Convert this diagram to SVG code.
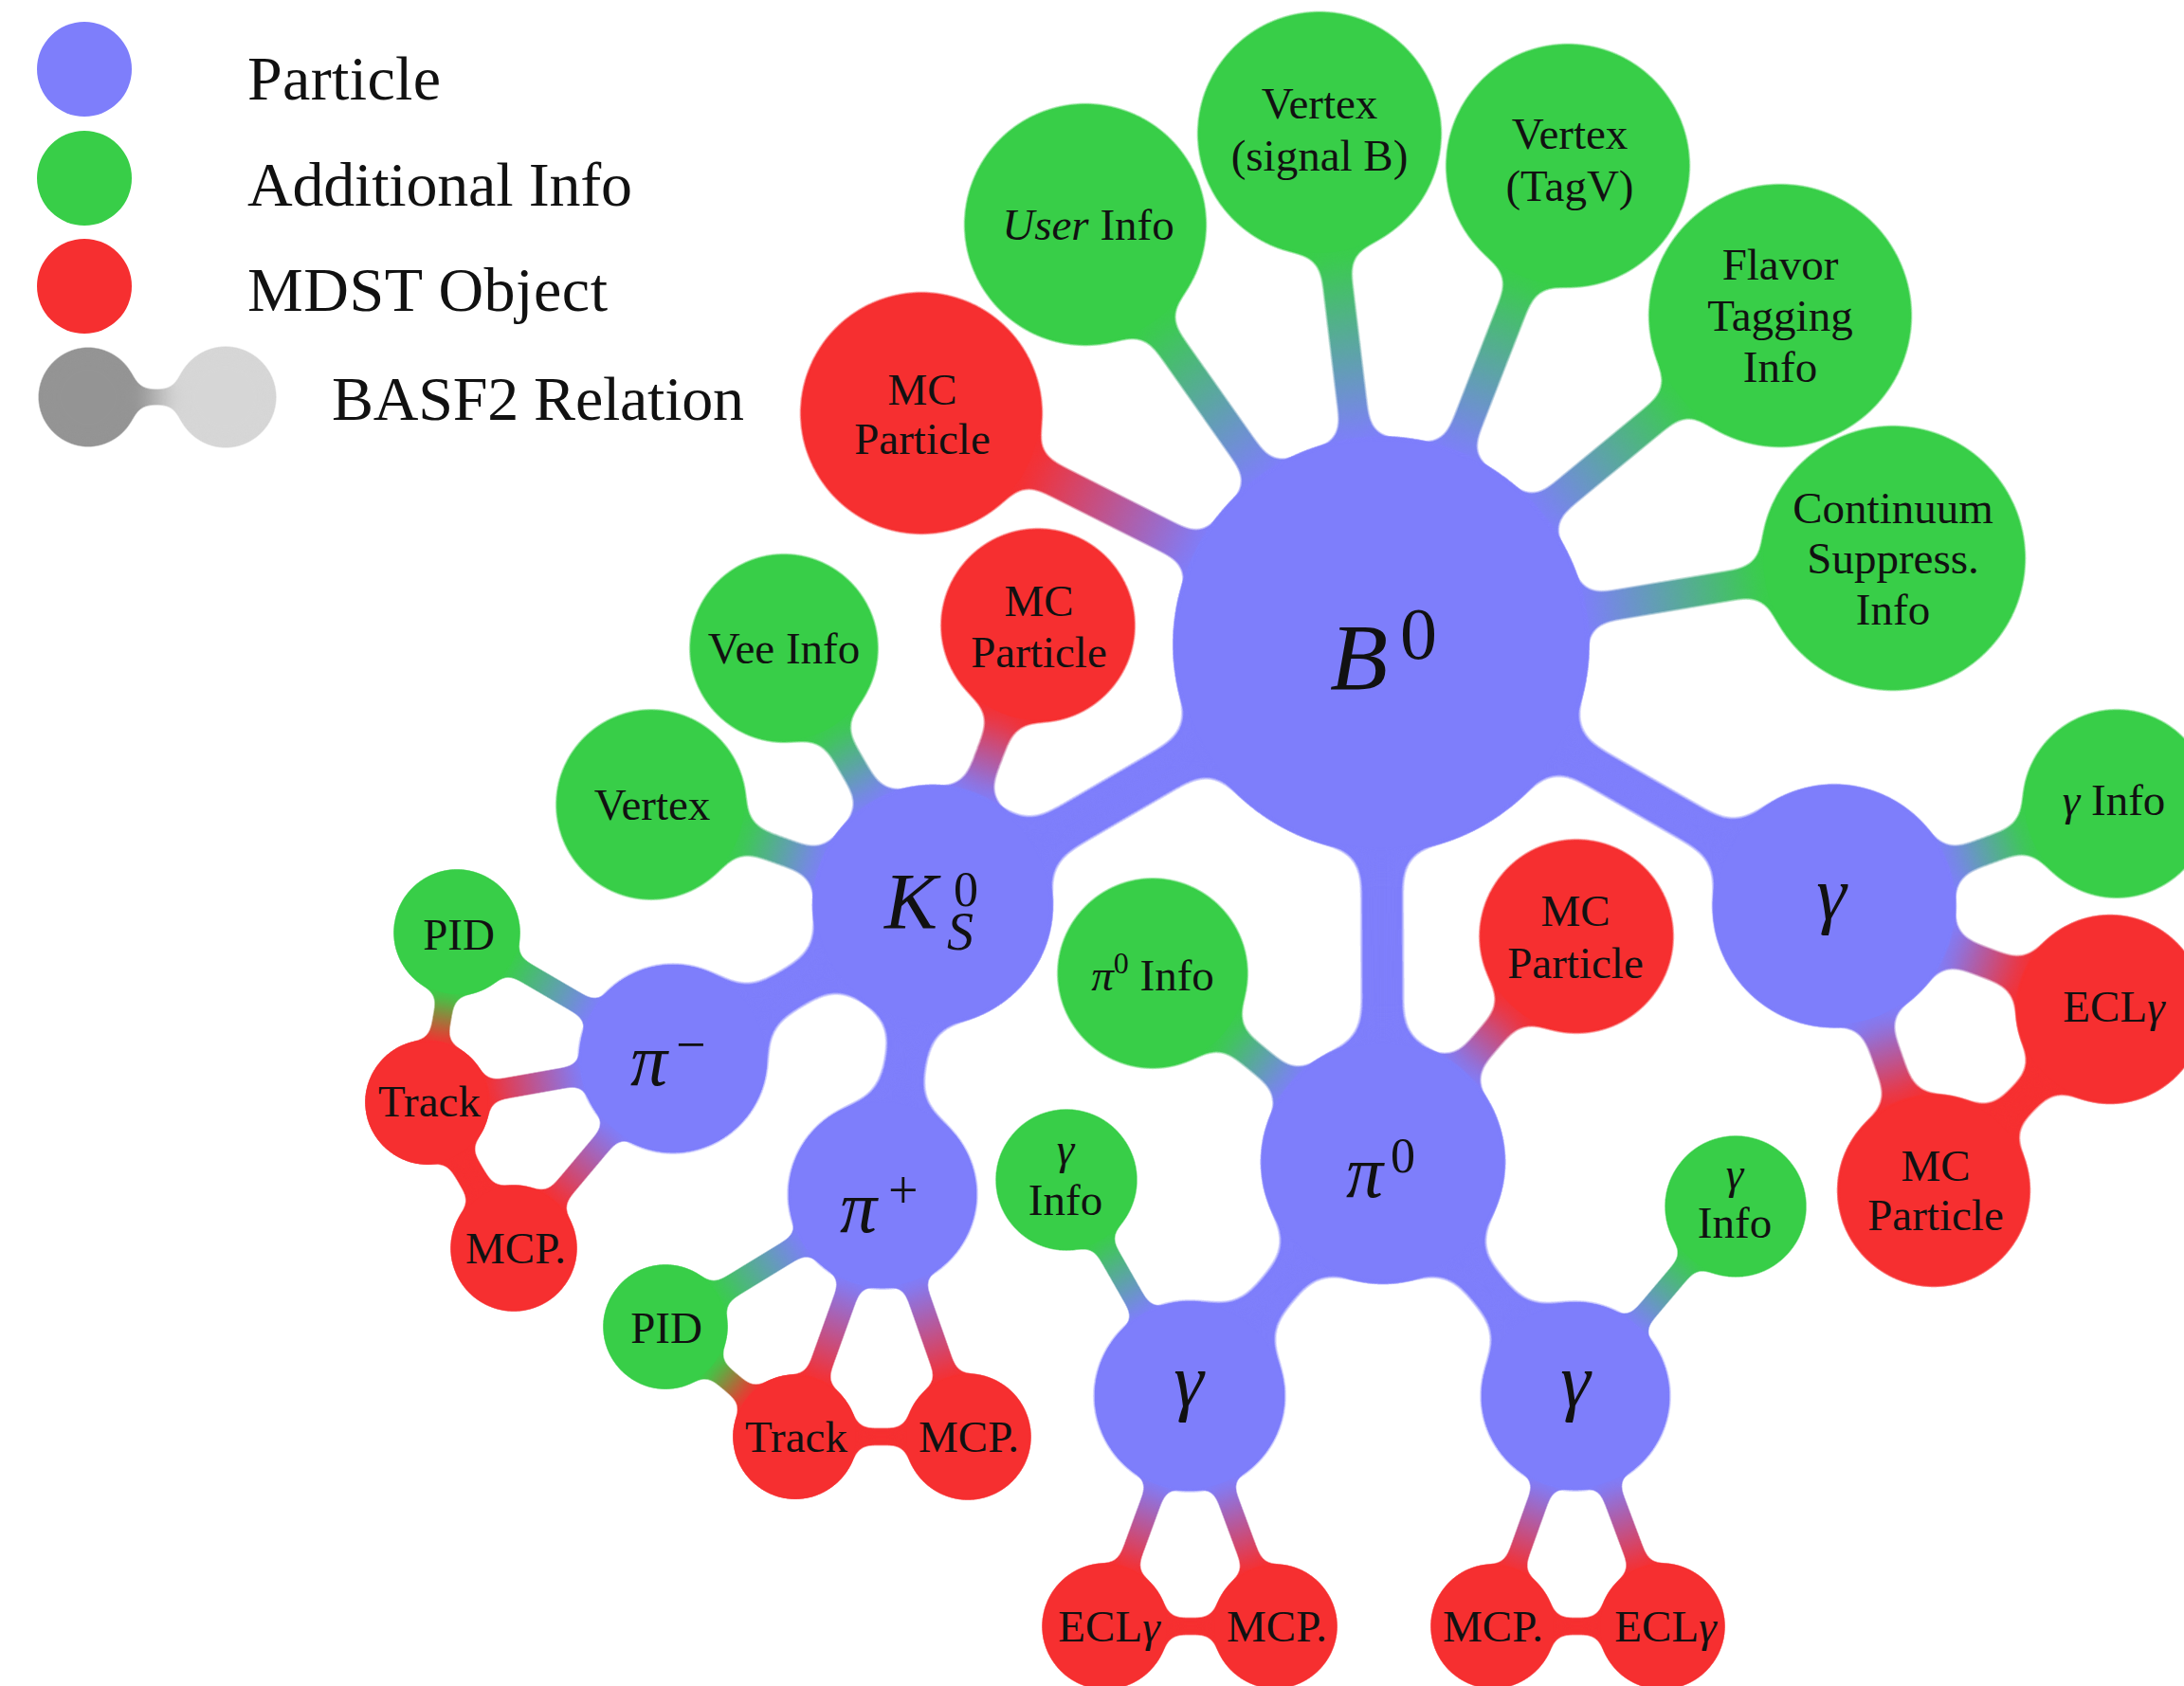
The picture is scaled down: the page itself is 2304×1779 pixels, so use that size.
<svg xmlns="http://www.w3.org/2000/svg" width="2304" height="1779" viewBox="0 0 2304 1779">
<style>
.b{fill:#7e7efb}.g{fill:#38ce48}.r{fill:#f62f30}
text{font-family:"Liberation Serif","DejaVu Serif",serif;fill:#111}
.t{font-size:47px;text-anchor:middle}
.i{font-style:italic}
.lg{font-size:66px}
line{stroke-linecap:butt}
.sb{stroke:#7e7efb}.sr{stroke:#f62f30}
</style>
<defs>
<filter id="gx" x="-25%" y="-25%" width="150%" height="150%" color-interpolation-filters="sRGB">
<feGaussianBlur in="SourceGraphic" stdDeviation="20"/>
<feColorMatrix values="1 0 0 0 0  0 1 0 0 0  0 0 1 0 0  0 0 0 16 -6"/>
</filter>
<filter id="gl" x="-20%" y="-20%" width="140%" height="140%" color-interpolation-filters="sRGB">
<feGaussianBlur in="SourceGraphic" stdDeviation="15"/>
<feColorMatrix values="1 0 0 0 0  0 1 0 0 0  0 0 1 0 0  0 0 0 16 -6"/>
</filter>
<filter id="gs" x="-20%" y="-20%" width="140%" height="140%" color-interpolation-filters="sRGB">
<feGaussianBlur in="SourceGraphic" stdDeviation="9"/>
<feColorMatrix values="1 0 0 0 0  0 1 0 0 0  0 0 1 0 0  0 0 0 16 -6"/>
</filter>
<linearGradient id="gUI" gradientUnits="userSpaceOnUse" x1="1457" y1="680" x2="1145" y2="237"><stop offset=".397" stop-color="#7e7efb"/><stop offset=".769" stop-color="#38ce48"/></linearGradient>
<linearGradient id="gVS" gradientUnits="userSpaceOnUse" x1="1457" y1="680" x2="1392" y2="141"><stop offset=".396" stop-color="#7e7efb"/><stop offset=".768" stop-color="#38ce48"/></linearGradient>
<linearGradient id="gVT" gradientUnits="userSpaceOnUse" x1="1457" y1="680" x2="1654" y2="175"><stop offset=".397" stop-color="#7e7efb"/><stop offset=".768" stop-color="#38ce48"/></linearGradient>
<linearGradient id="gFT" gradientUnits="userSpaceOnUse" x1="1457" y1="680" x2="1878" y2="333"><stop offset=".394" stop-color="#7e7efb"/><stop offset=".751" stop-color="#38ce48"/></linearGradient>
<linearGradient id="gCS" gradientUnits="userSpaceOnUse" x1="1457" y1="680" x2="1997" y2="589"><stop offset=".393" stop-color="#7e7efb"/><stop offset=".75" stop-color="#38ce48"/></linearGradient>
<linearGradient id="gMC1" gradientUnits="userSpaceOnUse" x1="1457" y1="680" x2="972" y2="436"><stop offset=".396" stop-color="#7e7efb"/><stop offset=".77" stop-color="#f62f30"/></linearGradient>
<linearGradient id="gVX" gradientUnits="userSpaceOnUse" x1="984" y1="955" x2="687" y2="849"><stop offset=".39" stop-color="#7e7efb"/><stop offset=".689" stop-color="#38ce48"/></linearGradient>
<linearGradient id="gVEE" gradientUnits="userSpaceOnUse" x1="984" y1="955" x2="827" y2="684"><stop offset=".393" stop-color="#7e7efb"/><stop offset=".69" stop-color="#38ce48"/></linearGradient>
<linearGradient id="gMC2" gradientUnits="userSpaceOnUse" x1="984" y1="955" x2="1095" y2="660"><stop offset=".39" stop-color="#7e7efb"/><stop offset=".683" stop-color="#f62f30"/></linearGradient>
<linearGradient id="gP1" gradientUnits="userSpaceOnUse" x1="710" y1="1117" x2="482" y2="984"><stop offset=".367" stop-color="#7e7efb"/><stop offset=".754" stop-color="#38ce48"/></linearGradient>
<linearGradient id="gT1" gradientUnits="userSpaceOnUse" x1="710" y1="1117" x2="451" y2="1163"><stop offset=".369" stop-color="#7e7efb"/><stop offset=".757" stop-color="#f62f30"/></linearGradient>
<linearGradient id="gM1" gradientUnits="userSpaceOnUse" x1="710" y1="1117" x2="542" y2="1317"><stop offset=".371" stop-color="#7e7efb"/><stop offset=".751" stop-color="#f62f30"/></linearGradient>
<linearGradient id="gPT1" gradientUnits="userSpaceOnUse" x1="482" y1="984" x2="451" y2="1163"><stop offset=".358" stop-color="#38ce48"/><stop offset=".648" stop-color="#f62f30"/></linearGradient>
<linearGradient id="gP2" gradientUnits="userSpaceOnUse" x1="931" y1="1260" x2="702" y2="1400"><stop offset=".361" stop-color="#7e7efb"/><stop offset=".762" stop-color="#38ce48"/></linearGradient>
<linearGradient id="gT2" gradientUnits="userSpaceOnUse" x1="931" y1="1260" x2="839" y2="1516"><stop offset=".357" stop-color="#7e7efb"/><stop offset=".765" stop-color="#f62f30"/></linearGradient>
<linearGradient id="gM2" gradientUnits="userSpaceOnUse" x1="931" y1="1260" x2="1021" y2="1516"><stop offset=".357" stop-color="#7e7efb"/><stop offset=".76" stop-color="#f62f30"/></linearGradient>
<linearGradient id="gPT2" gradientUnits="userSpaceOnUse" x1="702" y1="1400" x2="839" y2="1516"><stop offset=".357" stop-color="#38ce48"/><stop offset=".643" stop-color="#f62f30"/></linearGradient>
<linearGradient id="gPI" gradientUnits="userSpaceOnUse" x1="1459" y1="1226" x2="1216" y2="1027"><stop offset=".398" stop-color="#7e7efb"/><stop offset=".688" stop-color="#38ce48"/></linearGradient>
<linearGradient id="gMC3" gradientUnits="userSpaceOnUse" x1="1459" y1="1226" x2="1663" y2="988"><stop offset=".399" stop-color="#7e7efb"/><stop offset=".681" stop-color="#f62f30"/></linearGradient>
<linearGradient id="gGIL" gradientUnits="userSpaceOnUse" x1="1255" y1="1473" x2="1125" y2="1245"><stop offset=".373" stop-color="#7e7efb"/><stop offset=".722" stop-color="#38ce48"/></linearGradient>
<linearGradient id="gE1" gradientUnits="userSpaceOnUse" x1="1255" y1="1473" x2="1166" y2="1716"><stop offset=".379" stop-color="#7e7efb"/><stop offset=".749" stop-color="#f62f30"/></linearGradient>
<linearGradient id="gMb1" gradientUnits="userSpaceOnUse" x1="1255" y1="1473" x2="1345" y2="1716"><stop offset=".378" stop-color="#7e7efb"/><stop offset=".753" stop-color="#f62f30"/></linearGradient>
<linearGradient id="gGIR" gradientUnits="userSpaceOnUse" x1="1662" y1="1473" x2="1831" y2="1273"><stop offset=".371" stop-color="#7e7efb"/><stop offset=".721" stop-color="#38ce48"/></linearGradient>
<linearGradient id="gMb2" gradientUnits="userSpaceOnUse" x1="1662" y1="1473" x2="1575" y2="1716"><stop offset=".376" stop-color="#7e7efb"/><stop offset=".752" stop-color="#f62f30"/></linearGradient>
<linearGradient id="gE2" gradientUnits="userSpaceOnUse" x1="1662" y1="1473" x2="1753" y2="1716"><stop offset=".374" stop-color="#7e7efb"/><stop offset=".75" stop-color="#f62f30"/></linearGradient>
<linearGradient id="gGBI" gradientUnits="userSpaceOnUse" x1="1935" y1="956" x2="2233" y2="848"><stop offset=".394" stop-color="#7e7efb"/><stop offset=".694" stop-color="#38ce48"/></linearGradient>
<linearGradient id="gE3" gradientUnits="userSpaceOnUse" x1="1935" y1="956" x2="2226" y2="1065"><stop offset=".402" stop-color="#7e7efb"/><stop offset=".688" stop-color="#f62f30"/></linearGradient>
<linearGradient id="gMC4" gradientUnits="userSpaceOnUse" x1="1935" y1="956" x2="2040" y2="1256"><stop offset=".393" stop-color="#7e7efb"/><stop offset=".688" stop-color="#f62f30"/></linearGradient>
<linearGradient id="gLeg" gradientUnits="userSpaceOnUse" x1="93" y1="419" x2="238" y2="419"><stop offset=".352" stop-color="#949494"/><stop offset=".641" stop-color="#d6d6d6"/></linearGradient>
</defs>

<g id="legend">
<circle class="b" cx="89" cy="73" r="50"/>
<circle class="g" cx="89" cy="188" r="50"/>
<circle class="r" cx="89" cy="302" r="50"/>
<g filter="url(#gs)">
<circle cx="93" cy="419" r="51" fill="#949494"/>
<circle cx="238" cy="419" r="52" fill="#d6d6d6"/>
<line x1="93" y1="419" x2="238" y2="419" stroke="url(#gLeg)" stroke-width="14"/>
</g>
<text class="lg" x="261" y="105" textLength="204">Particle</text>
<text class="lg" x="261" y="217" textLength="406">Additional Info</text>
<text class="lg" x="261" y="328" textLength="380">MDST Object</text>
<text class="lg" x="350" y="443" textLength="435">BASF2 Relation</text>
</g>

<g id="connectors">
<g filter="url(#gl)"><circle class="b" cx="1457" cy="680" r="215"/><circle class="g" cx="1145" cy="237" r="125"/><line x1="1457" y1="680" x2="1145" y2="237" stroke="url(#gUI)" stroke-width="26"/></g>
<g filter="url(#gl)"><circle class="b" cx="1457" cy="680" r="215"/><circle class="g" cx="1392" cy="141" r="126"/><line x1="1457" y1="680" x2="1392" y2="141" stroke="url(#gVS)" stroke-width="26"/></g>
<g filter="url(#gl)"><circle class="b" cx="1457" cy="680" r="215"/><circle class="g" cx="1654" cy="175" r="126"/><line x1="1457" y1="680" x2="1654" y2="175" stroke="url(#gVT)" stroke-width="26"/></g>
<g filter="url(#gl)"><circle class="b" cx="1457" cy="680" r="215"/><circle class="g" cx="1878" cy="333" r="136"/><line x1="1457" y1="680" x2="1878" y2="333" stroke="url(#gFT)" stroke-width="26"/></g>
<g filter="url(#gl)"><circle class="b" cx="1457" cy="680" r="215"/><circle class="g" cx="1997" cy="589" r="137"/><line x1="1457" y1="680" x2="1997" y2="589" stroke="url(#gCS)" stroke-width="26"/></g>
<g filter="url(#gl)"><circle class="b" cx="1457" cy="680" r="215"/><circle class="r" cx="972" cy="436" r="125"/><line x1="1457" y1="680" x2="972" y2="436" stroke="url(#gMC1)" stroke-width="28"/></g>
<g filter="url(#gx)"><circle class="b" cx="1457" cy="680" r="215"/><circle class="b" cx="984" cy="955" r="123"/><line class="sb" x1="1457" y1="680" x2="984" y2="955" stroke-width="38"/></g>
<g filter="url(#gx)"><circle class="b" cx="1457" cy="680" r="215"/><circle class="b" cx="1459" cy="1226" r="125"/><line class="sb" x1="1457" y1="680" x2="1459" y2="1226" stroke-width="36"/></g>
<g filter="url(#gx)"><circle class="b" cx="1457" cy="680" r="215"/><circle class="b" cx="1935" cy="956" r="125"/><line class="sb" x1="1457" y1="680" x2="1935" y2="956" stroke-width="34"/></g>
<g filter="url(#gl)"><circle class="b" cx="984" cy="955" r="123"/><circle class="g" cx="687" cy="849" r="98"/><line x1="984" y1="955" x2="687" y2="849" stroke="url(#gVX)" stroke-width="24"/></g>
<g filter="url(#gl)"><circle class="b" cx="984" cy="955" r="123"/><circle class="g" cx="827" cy="684" r="97"/><line x1="984" y1="955" x2="827" y2="684" stroke="url(#gVEE)" stroke-width="24"/></g>
<g filter="url(#gl)"><circle class="b" cx="984" cy="955" r="123"/><circle class="r" cx="1095" cy="660" r="100"/><line x1="984" y1="955" x2="1095" y2="660" stroke="url(#gMC2)" stroke-width="24"/></g>
<g filter="url(#gx)"><circle class="b" cx="984" cy="955" r="123"/><circle class="b" cx="710" cy="1117" r="97"/><line class="sb" x1="984" y1="955" x2="710" y2="1117" stroke-width="36"/></g>
<g filter="url(#gx)"><circle class="b" cx="984" cy="955" r="123"/><circle class="b" cx="931" cy="1260" r="97"/><line class="sb" x1="984" y1="955" x2="931" y2="1260" stroke-width="36"/></g>
<g filter="url(#gs)"><circle class="b" cx="710" cy="1117" r="97"/><circle class="g" cx="482" cy="984" r="65"/><line x1="710" y1="1117" x2="482" y2="984" stroke="url(#gP1)" stroke-width="18"/></g>
<g filter="url(#gs)"><circle class="b" cx="710" cy="1117" r="97"/><circle class="r" cx="451" cy="1163" r="64"/><line x1="710" y1="1117" x2="451" y2="1163" stroke="url(#gT1)" stroke-width="18"/></g>
<g filter="url(#gs)"><circle class="b" cx="710" cy="1117" r="97"/><circle class="r" cx="542" cy="1317" r="65"/><line x1="710" y1="1117" x2="542" y2="1317" stroke="url(#gM1)" stroke-width="18"/></g>
<g filter="url(#gs)"><circle class="g" cx="482" cy="984" r="65"/><circle class="r" cx="451" cy="1163" r="64"/><line x1="482" y1="984" x2="451" y2="1163" stroke="url(#gPT1)" stroke-width="16"/></g>
<g filter="url(#gs)"><circle class="r" cx="451" cy="1163" r="64"/><circle class="r" cx="542" cy="1317" r="65"/><line class="sr" x1="451" y1="1163" x2="542" y2="1317" stroke-width="26"/></g>
<g filter="url(#gs)"><circle class="b" cx="931" cy="1260" r="97"/><circle class="g" cx="702" cy="1400" r="64"/><line x1="931" y1="1260" x2="702" y2="1400" stroke="url(#gP2)" stroke-width="20"/></g>
<g filter="url(#gs)"><circle class="b" cx="931" cy="1260" r="97"/><circle class="r" cx="839" cy="1516" r="64"/><line x1="931" y1="1260" x2="839" y2="1516" stroke="url(#gT2)" stroke-width="20"/></g>
<g filter="url(#gs)"><circle class="b" cx="931" cy="1260" r="97"/><circle class="r" cx="1021" cy="1516" r="65"/><line x1="931" y1="1260" x2="1021" y2="1516" stroke="url(#gM2)" stroke-width="20"/></g>
<g filter="url(#gs)"><circle class="g" cx="702" cy="1400" r="64"/><circle class="r" cx="839" cy="1516" r="64"/><line x1="702" y1="1400" x2="839" y2="1516" stroke="url(#gPT2)" stroke-width="18"/></g>
<g filter="url(#gs)"><circle class="r" cx="839" cy="1516" r="64"/><circle class="r" cx="1021" cy="1516" r="65"/><line class="sr" x1="839" y1="1516" x2="1021" y2="1516" stroke-width="15"/></g>
<g filter="url(#gl)"><circle class="b" cx="1459" cy="1226" r="125"/><circle class="g" cx="1216" cy="1027" r="98"/><line x1="1459" y1="1226" x2="1216" y2="1027" stroke="url(#gPI)" stroke-width="24"/></g>
<g filter="url(#gl)"><circle class="b" cx="1459" cy="1226" r="125"/><circle class="r" cx="1663" cy="988" r="100"/><line x1="1459" y1="1226" x2="1663" y2="988" stroke="url(#gMC3)" stroke-width="24"/></g>
<g filter="url(#gx)"><circle class="b" cx="1459" cy="1226" r="125"/><circle class="b" cx="1255" cy="1473" r="98"/><line class="sb" x1="1459" y1="1226" x2="1255" y2="1473" stroke-width="34"/></g>
<g filter="url(#gx)"><circle class="b" cx="1459" cy="1226" r="125"/><circle class="b" cx="1662" cy="1473" r="97"/><line class="sb" x1="1459" y1="1226" x2="1662" y2="1473" stroke-width="34"/></g>
<g filter="url(#gs)"><circle class="b" cx="1255" cy="1473" r="98"/><circle class="g" cx="1125" cy="1245" r="73"/><line x1="1255" y1="1473" x2="1125" y2="1245" stroke="url(#gGIL)" stroke-width="18"/></g>
<g filter="url(#gs)"><circle class="b" cx="1255" cy="1473" r="98"/><circle class="r" cx="1166" cy="1716" r="65"/><line x1="1255" y1="1473" x2="1166" y2="1716" stroke="url(#gE1)" stroke-width="18"/></g>
<g filter="url(#gs)"><circle class="b" cx="1255" cy="1473" r="98"/><circle class="r" cx="1345" cy="1716" r="64"/><line x1="1255" y1="1473" x2="1345" y2="1716" stroke="url(#gMb1)" stroke-width="18"/></g>
<g filter="url(#gs)"><circle class="r" cx="1166" cy="1716" r="65"/><circle class="r" cx="1345" cy="1716" r="64"/><line class="sr" x1="1166" y1="1716" x2="1345" y2="1716" stroke-width="15"/></g>
<g filter="url(#gs)"><circle class="b" cx="1662" cy="1473" r="97"/><circle class="g" cx="1831" cy="1273" r="73"/><line x1="1662" y1="1473" x2="1831" y2="1273" stroke="url(#gGIR)" stroke-width="18"/></g>
<g filter="url(#gs)"><circle class="b" cx="1662" cy="1473" r="97"/><circle class="r" cx="1575" cy="1716" r="64"/><line x1="1662" y1="1473" x2="1575" y2="1716" stroke="url(#gMb2)" stroke-width="18"/></g>
<g filter="url(#gs)"><circle class="b" cx="1662" cy="1473" r="97"/><circle class="r" cx="1753" cy="1716" r="65"/><line x1="1662" y1="1473" x2="1753" y2="1716" stroke="url(#gE2)" stroke-width="18"/></g>
<g filter="url(#gs)"><circle class="r" cx="1575" cy="1716" r="64"/><circle class="r" cx="1753" cy="1716" r="65"/><line class="sr" x1="1575" y1="1716" x2="1753" y2="1716" stroke-width="15"/></g>
<g filter="url(#gl)"><circle class="b" cx="1935" cy="956" r="125"/><circle class="g" cx="2233" cy="848" r="97"/><line x1="1935" y1="956" x2="2233" y2="848" stroke="url(#gGBI)" stroke-width="24"/></g>
<g filter="url(#gl)"><circle class="b" cx="1935" cy="956" r="125"/><circle class="r" cx="2226" cy="1065" r="97"/><line x1="1935" y1="956" x2="2226" y2="1065" stroke="url(#gE3)" stroke-width="26"/></g>
<g filter="url(#gl)"><circle class="b" cx="1935" cy="956" r="125"/><circle class="r" cx="2040" cy="1256" r="99"/><line x1="1935" y1="956" x2="2040" y2="1256" stroke="url(#gMC4)" stroke-width="26"/></g>
<g filter="url(#gl)"><circle class="r" cx="2226" cy="1065" r="97"/><circle class="r" cx="2040" cy="1256" r="99"/><line class="sr" x1="2226" y1="1065" x2="2040" y2="1256" stroke-width="28"/></g>
</g>

<g id="nodes">
<g id="n-b0"><circle class="b" cx="1457" cy="680" r="215"/><text x="1403" y="727"><tspan class="i" font-size="100">B</tspan><tspan x="1477" y="695" font-size="78">0</tspan></text></g>
<g id="n-userinfo"><circle class="g" cx="1145" cy="237" r="125"/><text class="t" x="1148" y="253"><tspan class="i">User</tspan> Info</text></g>
<g id="n-vertex-sig"><circle class="g" cx="1392" cy="141" r="126"/><text class="t" x="1392" y="125">Vertex</text><text class="t" x="1392" y="180">(signal B)</text></g>
<g id="n-vertex-tagv"><circle class="g" cx="1654" cy="175" r="126"/><text class="t" x="1656" y="157">Vertex</text><text class="t" x="1656" y="212">(TagV)</text></g>
<g id="n-flavor"><circle class="g" cx="1878" cy="333" r="136"/><text class="t" x="1878" y="295">Flavor</text><text class="t" x="1878" y="349">Tagging</text><text class="t" x="1878" y="403">Info</text></g>
<g id="n-continuum"><circle class="g" cx="1997" cy="589" r="137"/><text class="t" x="1997" y="552">Continuum</text><text class="t" x="1997" y="605">Suppress.</text><text class="t" x="1997" y="659">Info</text></g>
<g id="n-mc-b0"><circle class="r" cx="972" cy="436" r="125"/><text class="t" x="973" y="427">MC</text><text class="t" x="973" y="479">Particle</text></g>
<g id="n-ks"><circle class="b" cx="984" cy="955" r="123"/><text x="933" y="980"><tspan class="i" font-size="84">K</tspan><tspan x="1006" y="956" font-size="52">0</tspan></text><text class="i" x="999" y="1002" font-size="56">S</text></g>
<g id="n-mc-ks"><circle class="r" cx="1095" cy="660" r="100"/><text class="t" x="1096" y="650">MC</text><text class="t" x="1096" y="704">Particle</text></g>
<g id="n-veeinfo"><circle class="g" cx="827" cy="684" r="97"/><text class="t" x="827" y="700">Vee Info</text></g>
<g id="n-vertex-ks"><circle class="g" cx="687" cy="849" r="98"/><text class="t" x="688" y="865">Vertex</text></g>
<g id="n-piminus"><circle class="b" cx="710" cy="1117" r="97"/><text x="665" y="1145"><tspan class="i" font-size="78">π</tspan><tspan x="713" y="1121" font-size="56">−</tspan></text></g>
<g id="n-pid1"><circle class="g" cx="482" cy="984" r="65"/><text class="t" x="484" y="1002">PID</text></g>
<g id="n-track1"><circle class="r" cx="451" cy="1163" r="64"/><text class="t" x="453" y="1178">Track</text></g>
<g id="n-mcp1"><circle class="r" cx="542" cy="1317" r="65"/><text class="t" x="544" y="1333">MCP.</text></g>
<g id="n-piplus"><circle class="b" cx="931" cy="1260" r="97"/><text x="886" y="1300"><tspan class="i" font-size="78">π</tspan><tspan x="937" y="1275" font-size="56">+</tspan></text></g>
<g id="n-pid2"><circle class="g" cx="702" cy="1400" r="64"/><text class="t" x="703" y="1417">PID</text></g>
<g id="n-track2"><circle class="r" cx="839" cy="1516" r="64"/><text class="t" x="840" y="1532">Track</text></g>
<g id="n-mcp2"><circle class="r" cx="1021" cy="1516" r="65"/><text class="t" x="1022" y="1532">MCP.</text></g>
<g id="n-pi0"><circle class="b" cx="1459" cy="1226" r="125"/><text x="1420" y="1263"><tspan class="i" font-size="78">π</tspan><tspan x="1467" y="1237" font-size="52">0</tspan></text></g>
<g id="n-pi0info"><circle class="g" cx="1216" cy="1027" r="98"/><text class="t" x="1216" y="1045"><tspan class="i">π</tspan><tspan font-size="32" dy="-18">0</tspan><tspan dy="18"> Info</tspan></text></g>
<g id="n-mc-pi0"><circle class="r" cx="1663" cy="988" r="100"/><text class="t" x="1662" y="977">MC</text><text class="t" x="1662" y="1032">Particle</text></g>
<g id="n-gamma-l"><circle class="b" cx="1255" cy="1473" r="98"/><text class="i" x="1254" y="1484" font-size="80" text-anchor="middle">γ</text></g>
<g id="n-gammainfo-l"><circle class="g" cx="1125" cy="1245" r="73"/><text class="t" x="1124" y="1228"><tspan class="i">γ</tspan></text><text class="t" x="1124" y="1282">Info</text></g>
<g id="n-ecl-l"><circle class="r" cx="1166" cy="1716" r="65"/><text class="t" x="1170" y="1732">ECL<tspan class="i">γ</tspan></text></g>
<g id="n-mcp-l"><circle class="r" cx="1345" cy="1716" r="64"/><text class="t" x="1347" y="1732">MCP.</text></g>
<g id="n-gamma-r"><circle class="b" cx="1662" cy="1473" r="97"/><text class="i" x="1662" y="1484" font-size="80" text-anchor="middle">γ</text></g>
<g id="n-gammainfo-r"><circle class="g" cx="1831" cy="1273" r="73"/><text class="t" x="1830" y="1254"><tspan class="i">γ</tspan></text><text class="t" x="1830" y="1306">Info</text></g>
<g id="n-mcp-r"><circle class="r" cx="1575" cy="1716" r="64"/><text class="t" x="1575" y="1732">MCP.</text></g>
<g id="n-ecl-r"><circle class="r" cx="1753" cy="1716" r="65"/><text class="t" x="1757" y="1732">ECL<tspan class="i">γ</tspan></text></g>
<g id="n-gamma"><circle class="b" cx="1935" cy="956" r="125"/><text class="i" x="1932" y="970" font-size="80" text-anchor="middle">γ</text></g>
<g id="n-gammainfo"><circle class="g" cx="2233" cy="848" r="97"/><text class="t" x="2230" y="860"><tspan class="i">γ</tspan> Info</text></g>
<g id="n-ecl"><circle class="r" cx="2226" cy="1065" r="97"/><text class="t" x="2230" y="1078">ECL<tspan class="i">γ</tspan></text></g>
<g id="n-mc-gamma"><circle class="r" cx="2040" cy="1256" r="99"/><text class="t" x="2042" y="1246">MC</text><text class="t" x="2042" y="1298">Particle</text></g>
</g>
</svg>
